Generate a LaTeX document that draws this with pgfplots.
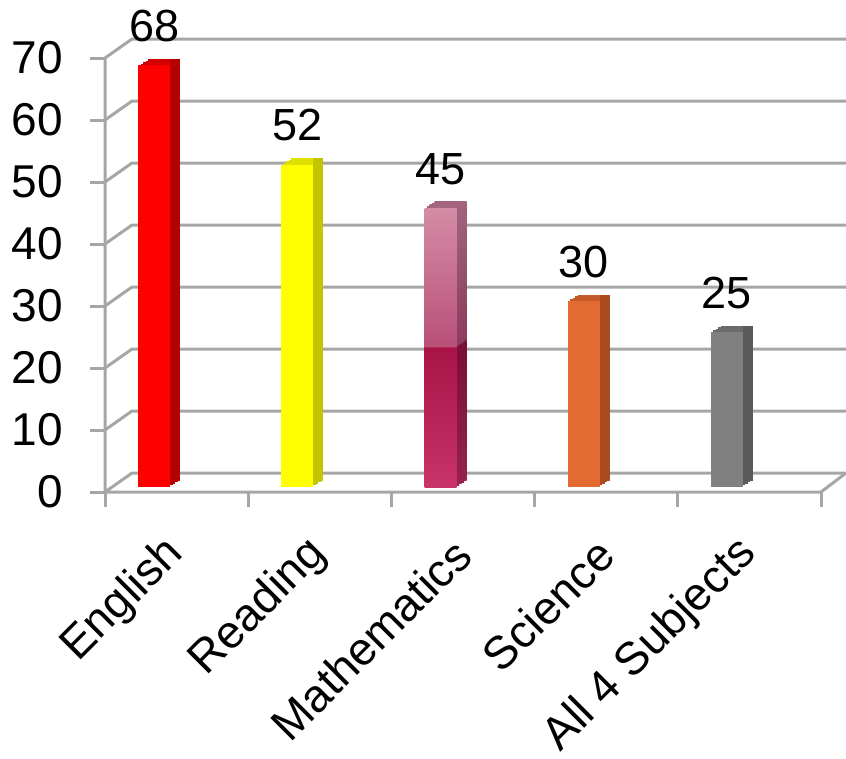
\documentclass[border=0pt]{standalone}
\usepackage{fontspec}
\setmainfont{Liberation Sans}
\usepackage{pgfplots}
\pgfplotsset{compat=1.18}

\definecolor{gridc}{RGB}{166,166,166}
\definecolor{rF}{RGB}{255,0,0}
\definecolor{rS}{RGB}{180,0,0}
\definecolor{rT}{RGB}{210,0,0}
\definecolor{yF}{RGB}{255,255,0}
\definecolor{yS}{RGB}{196,196,0}
\definecolor{yT}{RGB}{224,224,0}
\definecolor{oF}{RGB}{226,107,50}
\definecolor{oS}{RGB}{170,75,30}
\definecolor{oT}{RGB}{195,90,40}
\definecolor{gF}{RGB}{128,128,128}
\definecolor{gS}{RGB}{90,90,90}
\definecolor{gT}{RGB}{106,106,106}
\definecolor{mB}{RGB}{200,52,105}
\definecolor{mL}{RGB}{168,20,70}
\definecolor{mU}{RGB}{185,80,120}
\definecolor{mT}{RGB}{212,140,165}
\definecolor{msB}{RGB}{150,35,75}
\definecolor{msL}{RGB}{120,15,55}
\definecolor{msU}{RGB}{140,60,95}
\definecolor{msT}{RGB}{160,100,125}
\definecolor{mTop}{RGB}{165,100,128}

\pgfdeclareverticalshading{mathfront}{100bp}{color(0bp)=(mB); color(25bp)=(mB); color(50bp)=(mL); color(50.2bp)=(mU); color(75bp)=(mT); color(100bp)=(mT)}
\pgfdeclareverticalshading{mathside}{100bp}{color(0bp)=(msB); color(25bp)=(msB); color(50bp)=(msL); color(50.2bp)=(msU); color(75bp)=(msT); color(100bp)=(msT)}

\newcommand{\bigfont}{\fontsize{46}{50}\selectfont}
\newcommand{\valfont}{\fontsize{45}{48}\selectfont}

% data (one value per subject)
\pgfplotstableread{
x   v
0.5 68
1.5 52
2.5 45
3.5 30
4.5 25
}\datatab

\pgfplotsset{common/.style={scale only axis, width=716pt, height=434pt,
  xmin=0, xmax=5, ymin=0, ymax=70, clip=false},
  frontbar/.style={ybar, bar width=32pt, bar shift=-22.5pt, draw=none,
    nodes near coords,
    nodes near coords style={font=\valfont, anchor=base, inner sep=0pt,
      xshift=-22.5pt, yshift=24pt, text=black}}}

\begin{document}
\begin{tikzpicture}
\useasboundingbox (0,0) rectangle (846pt,-758pt);
% walls, ticks and labels
\begin{axis}[common, at={(105pt,-492pt)}, anchor=south west,
  axis line style={draw=none}, tick style={draw=none},
  ytick={0,10,...,70},
  /pgf/number format/assume math mode=true,
  yticklabel style={font=\bigfont, anchor=east, inner sep=0pt, xshift=-42pt},
  xtick={0.5,1.5,2.5,3.5,4.5},
  xticklabels={English,Reading,Mathematics,Science,All 4 Subjects},
  xticklabel style={font=\bigfont, inner sep=0pt, xshift=0pt, yshift=-55pt, rotate=45, anchor=east},
]
\pgfplotsinvokeforeach{0,10,20,30,40,50,60,70}{
  \draw[gridc, line width=3pt, line join=round] (axis cs:0,#1) -- ++(27pt,19pt) -- ([xshift=25pt,yshift=19pt]axis cs:5,#1);
  \draw[gridc, line width=3pt] (axis cs:0,#1) -- ++(-15pt,0pt);
}
\draw[gridc, line width=3pt, line join=round] (axis cs:0,70) -- (axis cs:0,0) -- (axis cs:5,0) -- ++(25pt,19pt);
\pgfplotsinvokeforeach{0,1,2,3,4,5}{
  \draw[gridc, line width=3pt] (axis cs:#1,0) -- ++(0pt,-15pt);
}
\end{axis}
% side faces of the bars (stepped depth)
\foreach \k in {4,3,2,1} {
  \pgfmathsetmacro{\dx}{105+2.5*\k}
  \pgfmathsetmacro{\dy}{-487+1.625*\k}
  \begin{axis}[common, at={(\dx pt,\dy pt)}, anchor=south west, hide axis]
  \addplot[ybar, bar width=32pt, bar shift=-22.5pt, draw=none, fill=rS] coordinates {(0.5,68)};
  \addplot[ybar, bar width=32pt, bar shift=-22.5pt, draw=none, fill=yS] coordinates {(1.5,52)};
  \addplot[ybar, bar width=32pt, bar shift=-22.5pt, draw=none, shading=mathside] coordinates {(2.5,45)};
  \addplot[ybar, bar width=32pt, bar shift=-22.5pt, draw=none, fill=oS] coordinates {(3.5,30)};
  \addplot[ybar, bar width=32pt, bar shift=-22.5pt, draw=none, fill=gS] coordinates {(4.5,25)};
  \end{axis}
}
% top faces of the bars (stepped depth)
\foreach \k in {4,3,2,1} {
  \pgfmathsetmacro{\dx}{105+2.5*\k}
  \pgfmathsetmacro{\dy}{-487+1.625*\k}
  \pgfmathsetmacro{\tw}{32-2.5*\k}
  \pgfmathsetmacro{\ts}{-22.5-1.25*\k}
  \begin{axis}[common, at={(\dx pt,\dy pt)}, anchor=south west, hide axis]
  \addplot[ybar, bar width=\tw pt, bar shift=\ts pt, draw=none, fill=rT] coordinates {(0.5,68)};
  \addplot[ybar, bar width=\tw pt, bar shift=\ts pt, draw=none, fill=yT] coordinates {(1.5,52)};
  \addplot[ybar, bar width=\tw pt, bar shift=\ts pt, draw=none, fill=mTop] coordinates {(2.5,45)};
  \addplot[ybar, bar width=\tw pt, bar shift=\ts pt, draw=none, fill=oT] coordinates {(3.5,30)};
  \addplot[ybar, bar width=\tw pt, bar shift=\ts pt, draw=none, fill=gT] coordinates {(4.5,25)};
  \end{axis}
}
% front faces with value labels
\begin{axis}[common, at={(105pt,-487pt)}, anchor=south west, hide axis,
  /pgf/number format/assume math mode=true]
\addplot[frontbar, fill=rF] coordinates {(0.5,68)};
\addplot[frontbar, fill=yF] coordinates {(1.5,52)};
\addplot[frontbar, shading=mathfront] coordinates {(2.5,45)};
\addplot[frontbar, fill=oF] coordinates {(3.5,30)};
\addplot[frontbar, fill=gF] coordinates {(4.5,25)};
\end{axis}
\end{tikzpicture}
\end{document}
